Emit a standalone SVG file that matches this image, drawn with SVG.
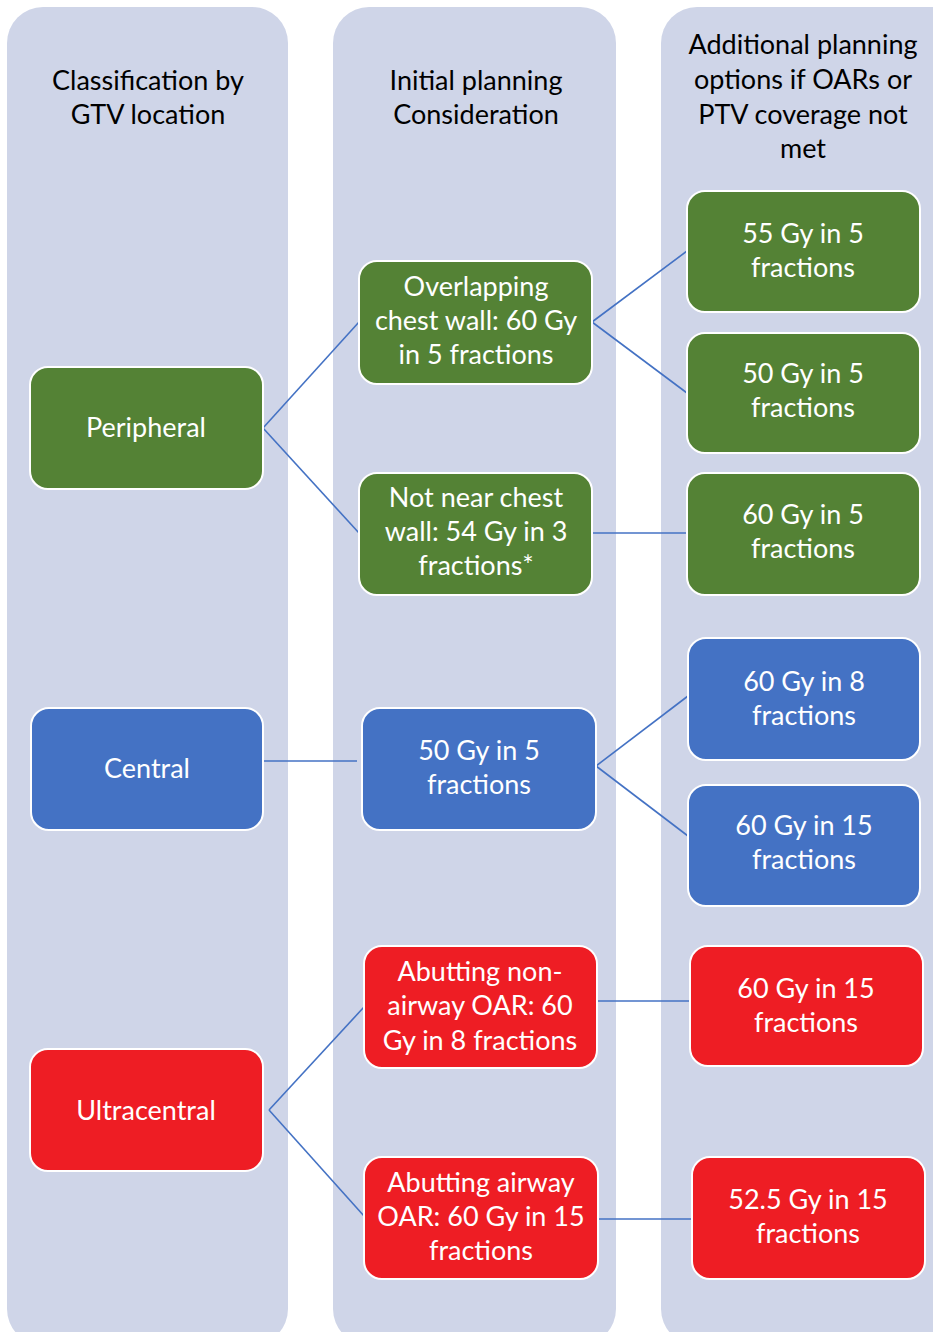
<svg xmlns="http://www.w3.org/2000/svg" width="933" height="1332" viewBox="0 0 933 1332">
<style>
.col{fill:#cfd5e8}
.hd{font-family:Lato,"Open Sans","Liberation Sans",sans-serif;font-size:27px;fill:#000;text-anchor:middle}
.nt{font-family:Lato,"Open Sans","Liberation Sans",sans-serif;font-size:27px;fill:#fff;text-anchor:middle}
.g{fill:#548235;stroke:#fff;stroke-width:2}
.b{fill:#4472c4;stroke:#fff;stroke-width:2}
.r{fill:#ee1d24;stroke:#fff;stroke-width:2}
.cn{stroke:#4472c4;stroke-width:1.6;fill:none}
</style>
<rect width="933" height="1332" fill="#fff"/>
<g id="columns">
<rect class="col" x="7" y="7" width="281" height="1338" rx="36"/>
<rect class="col" x="333" y="7" width="283" height="1338" rx="36"/>
<rect class="col" x="661" y="7" width="320" height="1338" rx="36"/>
</g>
<g id="headers">
<text class="hd" x="148" y="90">Classification by</text>
<text class="hd" x="148" y="124">GTV location</text>
<text class="hd" x="476" y="90">Initial planning</text>
<text class="hd" x="476" y="124">Consideration</text>
<text class="hd" x="803" y="54">Additional  planning</text>
<text class="hd" x="803" y="89">options if OARs or</text>
<text class="hd" x="803" y="124">PTV coverage not</text>
<text class="hd" x="803" y="158">met</text>
</g>
<g id="connectors">
<line class="cn" x1="263" y1="428" x2="359" y2="322"/>
<line class="cn" x1="263" y1="428" x2="359" y2="533"/>
<line class="cn" x1="592" y1="322" x2="687" y2="251"/>
<line class="cn" x1="592" y1="322" x2="687" y2="393"/>
<line class="cn" x1="592" y1="533" x2="687" y2="533"/>
<line class="cn" x1="263" y1="761" x2="357" y2="761"/>
<line class="cn" x1="596" y1="766" x2="688" y2="696"/>
<line class="cn" x1="596" y1="766" x2="688" y2="836"/>
<line class="cn" x1="269" y1="1110" x2="364" y2="1007"/>
<line class="cn" x1="269" y1="1110" x2="364" y2="1216"/>
<line class="cn" x1="597" y1="1001" x2="690" y2="1001"/>
<line class="cn" x1="598" y1="1219" x2="692" y2="1219"/>
</g>
<g id="n-peripheral"><rect class="g" x="30" y="367" width="233" height="122" rx="18"/><text class="nt" x="146" y="437">Peripheral</text></g>
<g id="n-overlapping"><rect class="g" x="359" y="261" width="233" height="123" rx="18"/><text class="nt" x="476" y="296">Overlapping</text><text class="nt" x="476" y="330">chest wall: 60 Gy</text><text class="nt" x="476" y="364">in 5 fractions</text></g>
<g id="n-notnear"><rect class="g" x="359" y="473" width="233" height="122" rx="18"/><text class="nt" x="476" y="507">Not near chest</text><text class="nt" x="476" y="541">wall: 54 Gy in 3</text><text class="nt" x="476" y="575">fractions*</text></g>
<g id="n-55in5"><rect class="g" x="687" y="191" width="233" height="121" rx="18"/><text class="nt" x="803" y="243">55 Gy in 5</text><text class="nt" x="803" y="277">fractions</text></g>
<g id="n-50in5b"><rect class="g" x="687" y="333" width="233" height="120" rx="18"/><text class="nt" x="803" y="383">50 Gy in 5</text><text class="nt" x="803" y="417">fractions</text></g>
<g id="n-60in5"><rect class="g" x="687" y="473" width="233" height="122" rx="18"/><text class="nt" x="803" y="524">60 Gy in 5</text><text class="nt" x="803" y="558">fractions</text></g>
<g id="n-central"><rect class="b" x="31" y="708" width="232" height="122" rx="18"/><text class="nt" x="147" y="778">Central</text></g>
<g id="n-50in5"><rect class="b" x="362" y="708" width="234" height="122" rx="18"/><text class="nt" x="479" y="760">50 Gy in 5</text><text class="nt" x="479" y="794">fractions</text></g>
<g id="n-60in8"><rect class="b" x="688" y="638" width="232" height="122" rx="18"/><text class="nt" x="804" y="691">60 Gy in 8</text><text class="nt" x="804" y="725">fractions</text></g>
<g id="n-60in15b"><rect class="b" x="688" y="785" width="232" height="121" rx="18"/><text class="nt" x="804" y="835">60 Gy in 15</text><text class="nt" x="804" y="869">fractions</text></g>
<g id="n-ultracentral"><rect class="r" x="30" y="1049" width="233" height="122" rx="18"/><text class="nt" x="146" y="1120">Ultracentral</text></g>
<g id="n-nonairway"><rect class="r" x="364" y="946" width="233" height="122" rx="18"/><text class="nt" x="480" y="981">Abutting non-</text><text class="nt" x="480" y="1015">airway OAR: 60</text><text class="nt" x="480" y="1050">Gy in 8 fractions</text></g>
<g id="n-60in15r"><rect class="r" x="690" y="946" width="233" height="120" rx="18"/><text class="nt" x="806" y="998">60 Gy in 15</text><text class="nt" x="806" y="1032">fractions</text></g>
<g id="n-airway"><rect class="r" x="364" y="1157" width="234" height="122" rx="18"/><text class="nt" x="481" y="1192">Abutting airway</text><text class="nt" x="481" y="1226">OAR: 60 Gy in 15</text><text class="nt" x="481" y="1260">fractions</text></g>
<g id="n-52in15"><rect class="r" x="692" y="1157" width="233" height="122" rx="18"/><text class="nt" x="808" y="1209">52.5 Gy in 15</text><text class="nt" x="808" y="1243">fractions</text></g>
</svg>
